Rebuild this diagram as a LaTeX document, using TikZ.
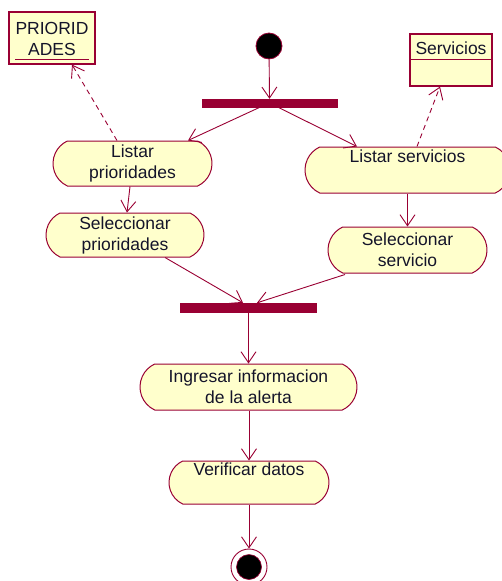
\documentclass[tikz,border=0pt]{standalone}
\usepackage{fontspec}
\setmainfont{Liberation Sans}
\usetikzlibrary{shapes.misc,arrows.meta}
\definecolor{rosered}{HTML}{990033}
\definecolor{rosefill}{HTML}{FFFFCC}
\definecolor{inktext}{HTML}{14142A}
\tikzset{
  labelfont/.style={font=\fontsize{17.5}{21}\selectfont},
  activity/.style={rounded rectangle, rounded rectangle arc length=130,
    draw=rosered, fill=rosefill, line width=1pt, inner sep=0pt,
    align=center, text=inktext, labelfont},
  classbox/.style={rectangle, draw=rosered, fill=rosefill, line width=1.2pt,
    inner sep=0pt},
  syncbar/.style={rectangle, draw=rosered, fill=rosered, inner sep=0pt},
  flow/.style={draw=rosered, line width=0.9pt,
    -{Straight Barb[length=11pt,width=15pt,line width=0.9pt]}},
  depend/.style={flow, dashed, dash pattern=on 5pt off 4pt},
}
\begin{document}
\begin{tikzpicture}[x=1pt,y=-1pt]
\useasboundingbox (0,0) rectangle (502,581);
\begin{scope}
\clip (0,0) rectangle (502,581);

% object boxes
\node[classbox, minimum width=86pt, minimum height=52pt] (prio) at (52,38) {};
\node[text=inktext, labelfont, align=center] (priotxt) at (52,38.5) {PRIORID\\ADES};
\draw[rosered, line width=1pt] (15,59) -- (89,59);

\node[classbox, minimum width=82pt, minimum height=52pt] (serv) at (451,60) {};
\node[text=inktext, labelfont] (servtxt) at (451,48.5) {Servicios};
\draw[rosered, line width=1pt] (411,59) -- (491,59);

% start and synchronisation bars
\node[circle, fill=black, draw=rosered, line width=0.8pt, minimum size=26pt, inner sep=0pt] (start) at (269,46) {};
\node[syncbar, minimum width=135pt, minimum height=8pt] (fork) at (269.5,103) {};
\node[syncbar, minimum width=136pt, minimum height=9pt] (join) at (248,307.5) {};

% activities
\node[activity, minimum width=159pt, minimum height=45pt] (lp) at (132.5,163.5) {Listar\\prioridades};
\node[activity, minimum width=205pt, minimum height=46pt] (ls) at (407.5,170) {Listar servicios\\\strut};
\node[activity, minimum width=158pt, minimum height=44pt] (sp) at (125,235) {Seleccionar\\prioridades};
\node[activity, minimum width=159pt, minimum height=46pt] (ss) at (407.5,250) {Seleccionar\\servicio};
\node[activity, minimum width=217pt, minimum height=46pt] (ii) at (248.5,387) {Ingresar informacion\\de la alerta};
\node[activity, minimum width=160pt, minimum height=43pt] (vd) at (249,482.5) {Verificar datos\\\strut};

% final state
\node[circle, draw=rosered, fill=white, line width=0.9pt, minimum size=36pt, inner sep=0pt] (final) at (249,567) {};
\node[circle, fill=black, draw=rosered, line width=0.6pt, minimum size=25pt, inner sep=0pt] (finalcore) at (final) {};

% control flow
\draw[flow] (start) -- (fork.north);
\draw[flow] ([xshift=-9.5pt]fork.south) -- ([xshift=55.5pt]lp.north);
\draw[flow] ([xshift=8.5pt]fork.south) -- ([xshift=-50.5pt]ls.north);
\draw[flow] ([xshift=-2.5pt]lp.south) -- ([xshift=2pt]sp.north);
\draw[flow] (ls.south -| ss.north) -- (ss.north);
\draw[flow] ([xshift=40pt]sp.south) -- ([xshift=-5pt]join.north);
\draw[flow] ([xshift=-62.5pt,yshift=-1pt]ss.south) -- ([xshift=9pt]join.north);
\draw[flow] (join.south -| ii.north) -- (ii.north);
\draw[flow] (ii.south -| vd.north) -- (vd.north);
\draw[flow] (vd.south -| final.north) -- (final.north);

% object dependencies
\draw[depend] ([xshift=-15.5pt]lp.north) -- ([xshift=20pt]prio.south);
\draw[depend] ([xshift=9.5pt]ls.north) -- ([xshift=-11pt]serv.south);
\end{scope}
\end{tikzpicture}
\end{document}
